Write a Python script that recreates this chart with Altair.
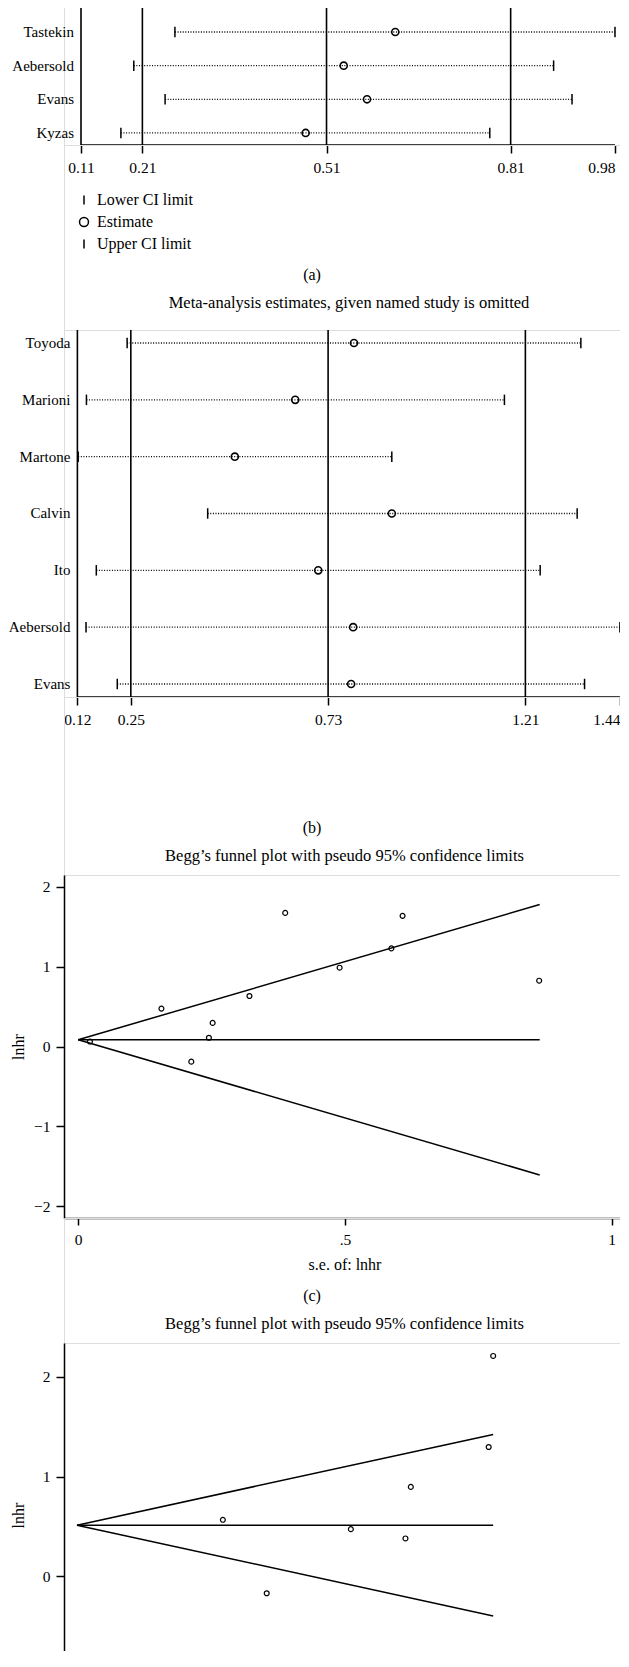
import altair as alt
import pandas as pd

FONT = "Liberation Serif"

# ---------------- data ----------------
kinds = ["Lower CI limit", "Estimate", "Upper CI limit"]

studies_a = ["Calvin", "Tastekin", "Aebersold", "Evans", "Kyzas"]
lower_a = [0.291, 0.263, 0.196, 0.247, 0.175]
est_a = [0.625, 0.622, 0.538, 0.576, 0.476]
upper_a = [0.959, 0.980, 0.880, 0.910, 0.776]
ticks_a = [0.11, 0.21, 0.51, 0.81, 0.98]
refs_a = [0.11, 0.21, 0.51, 0.81]

studies_b = ["Toyoda", "Marioni", "Martone", "Calvin", "Ito", "Aebersold", "Evans"]
lower_b = [0.241, 0.142, 0.122, 0.437, 0.166, 0.141, 0.217]
est_b = [0.793, 0.650, 0.503, 0.885, 0.706, 0.791, 0.786]
upper_b = [1.345, 1.159, 0.885, 1.336, 1.246, 1.440, 1.354]
ticks_b = [0.12, 0.25, 0.73, 1.21, 1.44]
refs_b = [0.12, 0.25, 0.73, 1.21]

c_se = [0.022, 0.156, 0.212, 0.245, 0.252, 0.321, 0.388, 0.490, 0.587, 0.608, 0.864]
c_lnhr = [0.063, 0.475, -0.19, 0.11, 0.296, 0.633, 1.675, 0.988, 1.23, 1.638, 0.825]
c_fun_se = [0.0, 0.865]
c_fun_upper = [0.084, 1.78]
c_fun_lower = [0.084, -1.61]
c_pooled = 0.084
c_yticks = [-2, -1, 0, 1, 2]
c_xticks = [0, 0.5, 1]

d_se = [0.163, 0.212, 0.306, 0.367, 0.373, 0.460, 0.465]
d_lnhr = [0.567, -0.17, 0.473, 0.38, 0.897, 1.297, 2.21]
d_fun_se = [0.0, 0.465]
d_fun_upper = [0.513, 1.423]
d_fun_lower = [0.513, -0.397]
d_pooled = 0.513
d_yticks = [0, 1, 2]

captions = ["(a)", "(b)", "(c)"]
title_b = "Meta-analysis estimates, given named study is omitted"
title_funnel = "Begg\u2019s funnel plot with pseudo 95% confidence limits"

# ---------------- layout ----------------
W = 561
VPATH = "M0,-1L0,1"


def forest(studies, lower, est, upper, ticks, refs, height, xdom, ydom,
           legend_x, legend_y, title=None):
    n = len(studies)
    rows = list(range(n))
    wide = pd.DataFrame({"study": studies, "row": rows, "lower": lower,
                         "est": est, "upper": upper, "x0": [ticks[0]] * n})
    ends = pd.DataFrame({"row": rows * 2,
                         "kind": [kinds[0]] * n + [kinds[2]] * n,
                         "value": lower + upper})
    mids = pd.DataFrame({"row": rows, "kind": [kinds[1]] * n, "value": est})
    xs = alt.Scale(domain=xdom, nice=False, zero=False)
    ys = alt.Scale(domain=ydom, nice=False, zero=False, reverse=True)
    x_axis = alt.Axis(
        values=ticks, format=".2f", domain=False, grid=False,
        ticks=True, tickSize=8, tickWidth=1.5, tickColor="black",
        labelFont=FONT, labelFontSize=15.5, labelColor="black",
        labelPadding=7, title=None,
        labelAlign={"condition": {"test": f"datum.value >= {ticks[-1] - 0.001}",
                                  "value": "right"},
                    "value": "center"})
    shape_scale = alt.Scale(domain=kinds, range=[VPATH, "circle", VPATH])
    leg = alt.Legend(orient="none", legendX=legend_x, legendY=legend_y,
                     direction="vertical", title=None, labelFont=FONT,
                     labelFontSize=16, labelColor="black", symbolSize=80,
                     symbolStrokeWidth=1.5, symbolStrokeColor="black",
                     rowPadding=6, labelOffset=5, padding=0, labelLimit=400)

    def X(field):
        return alt.X(field, scale=xs, axis=x_axis)

    def Y(field):
        return alt.Y(field, scale=ys, axis=None)

    refl = alt.Chart(pd.DataFrame({"v": refs})).mark_rule(
        color="black", strokeWidth=1.6).encode(x=X("v:Q"))
    axis_line = alt.Chart(pd.DataFrame({"a": [ticks[0]], "b": [ticks[-1]],
                                        "yb": [ydom[1]]})).mark_rule(
        color="black", strokeWidth=1.6).encode(
        x=X("a:Q"), x2="b:Q", y=Y("yb:Q"))
    dotted = alt.Chart(wide).mark_rule(
        strokeDash=[1, 1.6], strokeWidth=1.3, color="black", clip=True).encode(
        x=X("lower:Q"), x2="upper:Q", y=Y("row:Q"))
    endp = alt.Chart(ends).mark_point(
        filled=False, color="black", strokeWidth=1.5, size=110, opacity=1,
        clip=True).encode(
        x=X("value:Q"), y=Y("row:Q"),
        shape=alt.Shape("kind:N", scale=shape_scale, legend=leg))
    midp = alt.Chart(mids).mark_point(
        filled=False, color="black", strokeWidth=1.6, size=50, opacity=1,
        clip=True).encode(
        x=X("value:Q"), y=Y("row:Q"),
        shape=alt.Shape("kind:N", scale=shape_scale, legend=leg))
    labels = alt.Chart(wide).transform_filter(
        alt.datum.row >= ydom[0]).mark_text(
        align="right", baseline="middle", dx=-7, font=FONT, fontSize=15,
        color="black").encode(
        x=X("x0:Q"), y=Y("row:Q"), text="study:N")
    props = dict(width=W, height=height)
    if title is not None:
        props["title"] = title
    return alt.layer(refl, axis_line, dotted, endp, midp, labels).properties(**props)


def funnel(se, lnhr, fse, fup, flo, pooled, height, xdom, ydom, yticks,
           xticks=None, title=None):
    pts = pd.DataFrame({"se": se, "lnhr": lnhr})
    lines = pd.DataFrame({"se": fse * 3,
                          "val": fup + flo + [pooled, pooled],
                          "line": ["upper"] * 2 + ["lower"] * 2 + ["pooled"] * 2})
    xs = alt.Scale(domain=xdom, nice=False, zero=False)
    ys = alt.Scale(domain=ydom, nice=False, zero=False)
    y_axis = alt.Axis(values=yticks, format="d", title="lnhr", grid=False,
                      domainColor="black", domainWidth=1.5, tickColor="black",
                      tickWidth=1.5, tickSize=8, labelFont=FONT,
                      labelFontSize=15.5, labelColor="black", labelPadding=6,
                      titleFont=FONT, titleFontSize=16, titleFontWeight="normal",
                      titleColor="black", titleX=-46, titleBaseline="middle")
    if xticks is not None:
        x_axis = alt.Axis(values=xticks, title="s.e. of: lnhr", grid=False,
                          labelExpr="datum.value == 0.5 ? '.5' : '' + datum.value",
                          domainColor="black", domainWidth=1.5,
                          tickColor="black", tickWidth=1.5, tickSize=7,
                          labelFont=FONT, labelFontSize=15.5, labelColor="black",
                          labelPadding=7, titleFont=FONT, titleFontSize=16,
                          titleFontWeight="normal", titleColor="black",
                          titlePadding=9)
    else:
        x_axis = None
    flines = alt.Chart(lines).mark_line(color="black", strokeWidth=1.5).encode(
        x=alt.X("se:Q", scale=xs, axis=x_axis),
        y=alt.Y("val:Q", scale=ys, axis=y_axis),
        detail="line:N")
    points = alt.Chart(pts).mark_point(
        filled=False, color="black", strokeWidth=1.2, size=24, opacity=1).encode(
        x=alt.X("se:Q", scale=xs, axis=x_axis),
        y=alt.Y("lnhr:Q", scale=ys, axis=y_axis))
    props = dict(width=W, height=height)
    if title is not None:
        props["title"] = title
    return alt.layer(flines, points).properties(**props)


def spacer(height, caption, cap_y):
    return alt.Chart(pd.DataFrame({"caption": [caption]})).mark_text(
        font=FONT, fontSize=16, color="black", align="center",
        baseline="middle").encode(
        text="caption:N", x=alt.value(248), y=alt.value(cap_y)).properties(
        width=W, height=height)


def ttl(text, offset, dx=0.0):
    return alt.TitleParams(text=text, font=FONT, fontSize=16.5,
                           fontWeight="normal", color="black", anchor="middle",
                           frame="group", offset=offset, baseline="middle", dx=dx)


panel_a = forest(studies_a, lower_a, est_a, upper_a, ticks_a, refs_a, 143,
                 [0.0823, 0.9963], [0.1085, 4.358], 12, 190)
panel_b = forest(studies_b, lower_b, est_b, upper_b, ticks_b, refs_b, 367,
                 [0.0874, 1.4524], [-0.2288, 6.229], 8.5, 413,
                 title=ttl(title_b, 10, 4.5))
panel_c = funnel(c_se, c_lnhr, c_fun_se, c_fun_upper, c_fun_lower, c_pooled,
                 343, [-0.0266, 1.0249], [-2.15, 2.15], c_yticks, c_xticks,
                 title=ttl(title_funnel, 3))
panel_d = funnel(d_se, d_lnhr, d_fun_se, d_fun_upper, d_fun_lower, d_pooled,
                 344, [-0.0145, 0.6123], [-1.11, 2.34], d_yticks, None,
                 title=ttl(title_funnel, 3))

chart = alt.vconcat(
    panel_a, spacer(185, captions[0], 130),
    panel_b, spacer(178, captions[1], 131),
    panel_c, spacer(125, captions[2], 78),
    panel_d,
    spacing=0, bounds="flush",
).properties(
    padding={"left": 0, "top": -8, "right": -6, "bottom": -37},
    background="white",
).configure_view(strokeWidth=0).configure(font=FONT)

chart.save("out.html", embed_options={"renderer": "svg", "actions": False})
